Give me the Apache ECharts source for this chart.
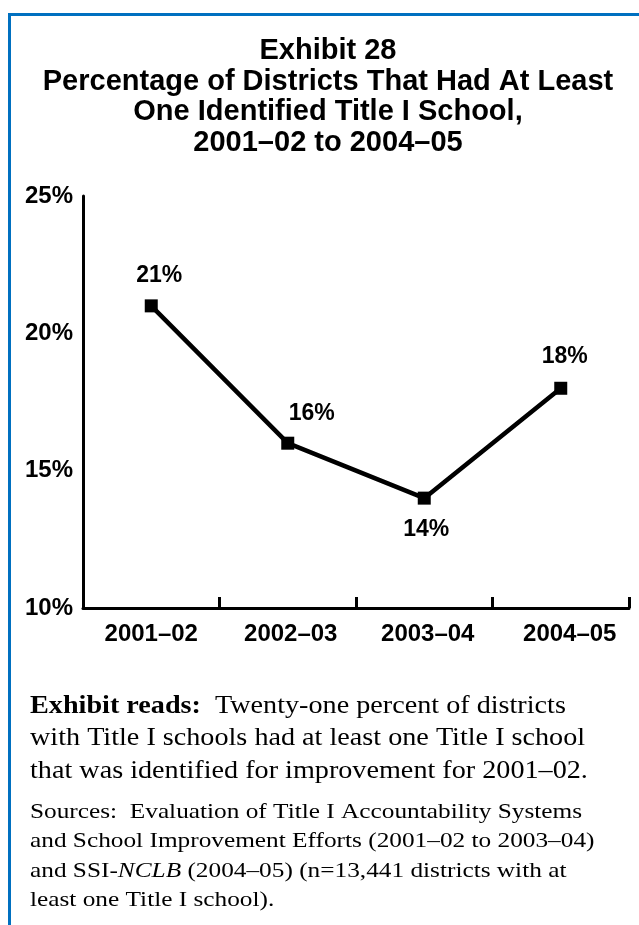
<!DOCTYPE html>
<html><head><meta charset="utf-8">
<script src="https://cdn.jsdelivr.net/npm/echarts@6/dist/echarts.min.js"></script>
<style>
html,body{margin:0;padding:0;background:#fff;}
#frame{position:absolute;left:8px;top:13px;right:0;bottom:0;border-top:3px solid #0070C0;border-left:3px solid #0070C0;}
#chart{position:absolute;left:0;top:0;width:639px;height:925px;}
</style></head>
<body>
<div id="frame"></div>
<div id="chart"></div>
<script>
const titleLines = ["Exhibit 28","Percentage of Districts That Had At Least","One Identified Title I School,","2001\u201302 to 2004\u201305"];
const categories = ["2001\u201302","2002\u201303","2003\u201304","2004\u201305"];
const values = [21, 16, 14, 18];
const yTicks = [10, 15, 20, 25];
const readsLines = ["{b|Exhibit reads:}  Twenty-one percent of districts","with Title I schools had at least one Title I school","that was identified for improvement for 2001\u201302."];
const sourceLines = ["Sources:  Evaluation of Title I Accountability Systems","and School Improvement Efforts (2001\u201302 to 2003\u201304)","and SSI-{i|NCLB} (2004\u201305) (n=13,441 districts with at","least one Title I school)."];

const chart = echarts.init(document.getElementById('chart'), null, {renderer:'canvas'});
const labelPos = [
  {position:'top', distance:12, offset:[8,0]},
  {position:'top', distance:12, offset:[24,0]},
  {position:'bottom', distance:14, offset:[2,0]},
  {position:'top', distance:14, offset:[4,0]}
];
const catPad = {c0:[0,0,0,0], c1:[0,0,0,6], c2:[0,0,0,7], c3:[0,0,0,18]};
const rich = {};
Object.keys(catPad).forEach(k => rich[k] = {padding:catPad[k], fontFamily:'Liberation Sans, Arial', fontWeight:'bold', fontSize:24, color:'#000'});
chart.setOption({
  animation:false,
  title:{
    text: titleLines.join('\n'),
    left:328, top:36, textAlign:'center', padding:0,
    textStyle:{fontFamily:'Liberation Sans, Arial', fontWeight:'bold', fontSize:29, lineHeight:30.5, color:'#000'}
  },
  grid:{left:83, right:10, top:196, bottom:317, containLabel:false},
  xAxis:{
    type:'category', data:categories, boundaryGap:true,
    axisLine:{show:true, lineStyle:{color:'#000', width:3}},
    axisTick:{show:true, inside:true, length:11, interval:0, alignWithLabel:false, lineStyle:{color:'#000', width:3}},
    axisLabel:{color:'#000', fontFamily:'Liberation Sans, Arial', fontWeight:'bold', fontSize:24, margin:14, interval:0,
      formatter:(v,i)=>'{c'+i+'|'+v+'}', rich:rich}
  },
  yAxis:{
    type:'value', min:yTicks[0], max:yTicks[yTicks.length-1], interval:5,
    splitLine:{show:false},
    axisLine:{show:true, lineStyle:{color:'#000', width:3}},
    axisTick:{show:false},
    axisLabel:{color:'#000', fontFamily:'Liberation Sans, Arial', fontWeight:'bold', fontSize:24, margin:10, formatter:'{value}%'}
  },
  series:[{
    type:'line', data: values.map((v,i)=>({value:v, label:labelPos[i]})),
    symbol:'rect', symbolSize:13,
    lineStyle:{color:'#000', width:4.5},
    itemStyle:{color:'#000'},
    label:{show:true, formatter:'{c}%', color:'#000', fontFamily:'Liberation Sans, Arial', fontWeight:'bold', fontSize:23}
  }],
  graphic:[
    {type:'text', left:30, top:690, scaleX:1.15, style:{
      text: readsLines.join('\n'), font:'24.5px "Liberation Serif", serif', lineHeight:32.5, fill:'#000',
      rich:{b:{fontWeight:'bold', fontSize:24.5, fontFamily:'Liberation Serif', lineHeight:32.5}}
    }},
    {type:'text', left:30, top:797, scaleX:1.15, style:{
      text: sourceLines.join('\n'), font:'22px "Liberation Serif", serif', lineHeight:29.5, fill:'#000',
      rich:{i:{fontStyle:'italic', fontSize:22, fontFamily:'Liberation Serif', lineHeight:29.5}}
    }}
  ]
});
</script>
</body></html>
